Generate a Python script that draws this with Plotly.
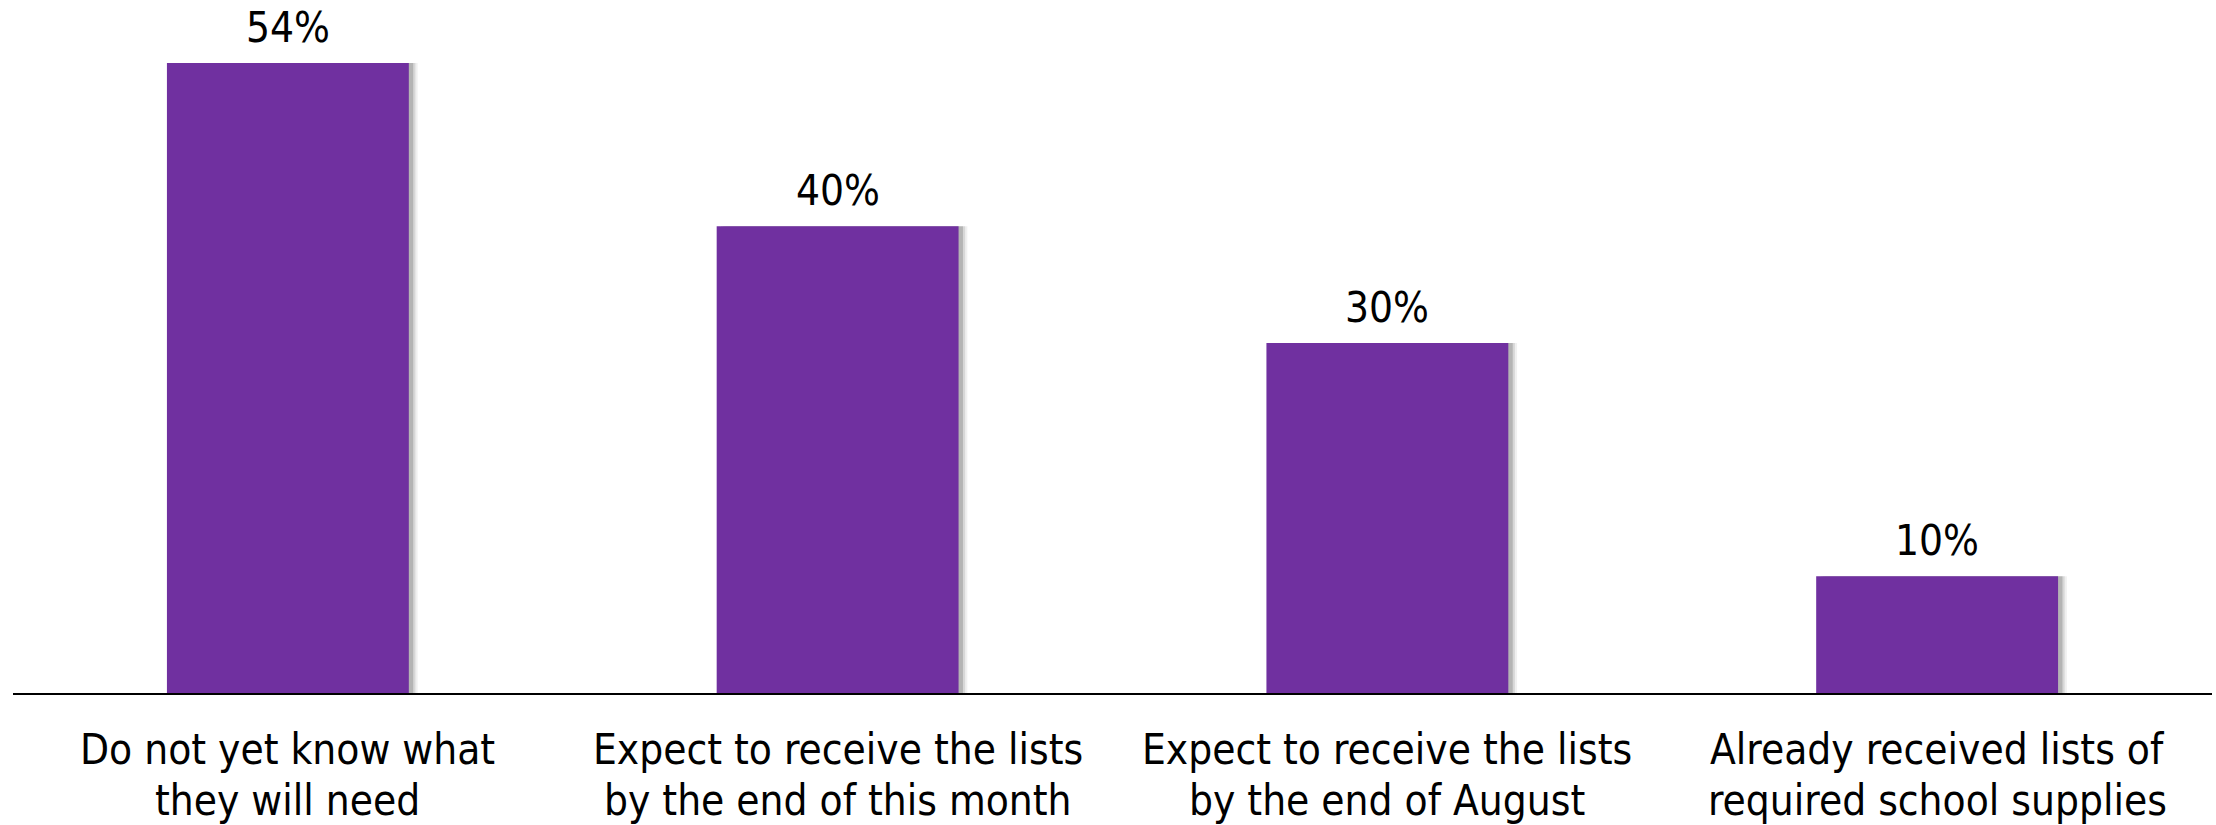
import plotly.graph_objects as go

categories = [
    "Do not yet know what<br>they will need",
    "Expect to receive the lists<br>by the end of this month",
    "Expect to receive the lists<br>by the end of August",
    "Already received lists of<br>required school supplies",
]
values = [54, 40, 30, 10]
labels = ["54%", "40%", "30%", "10%"]

FONT = "Tahoma, 'DejaVu Sans Condensed', 'DejaVu Sans', sans-serif"
PURPLE = "#7030A0"

fig = go.Figure()
# soft shadow behind bars
for dx, a in [(0.016, 0.06), (0.012, 0.10), (0.008, 0.16)]:
    fig.add_trace(go.Bar(
        x=categories, y=values, width=0.44, offset=-0.22 + dx,
        marker=dict(color=f"rgba(0,0,0,{a})", line=dict(width=0)),
        hoverinfo="skip", showlegend=False,
    ))
fig.add_trace(go.Bar(
    x=categories, y=values, width=0.44, offset=-0.22,
    marker=dict(color=PURPLE, line=dict(width=0)),
    showlegend=False,
))

# value labels
for c, v, t in zip(categories, values, labels):
    fig.add_annotation(x=c, y=v, text=t, showarrow=False, yanchor="bottom",
                       yshift=9, font=dict(family=FONT, size=42, color="black"))

# category labels (two lines each)
for c in categories:
    for k, line in enumerate(c.split("<br>")):
        fig.add_annotation(x=c, y=0, yref="paper", text=line, showarrow=False,
                           yanchor="middle", yshift=-56 - 51 * k,
                           font=dict(family=FONT, size=42, color="black"))

fig.update_layout(
    width=2216, height=825,
    margin=dict(l=13, r=4, t=0, b=132),
    paper_bgcolor="white", plot_bgcolor="white",
    barmode="overlay",
    font=dict(family=FONT, size=42, color="black"),
    xaxis=dict(showline=True, linecolor="black", linewidth=2, ticks="",
               showticklabels=False, showgrid=False, range=[-0.5, 3.5],
               automargin=False),
    yaxis=dict(range=[0, 59.4], visible=False, showgrid=False, zeroline=False),
)

fig.write_html("out.html", config={"displayModeBar": False},
               post_script="document.body.style.margin='0';")
